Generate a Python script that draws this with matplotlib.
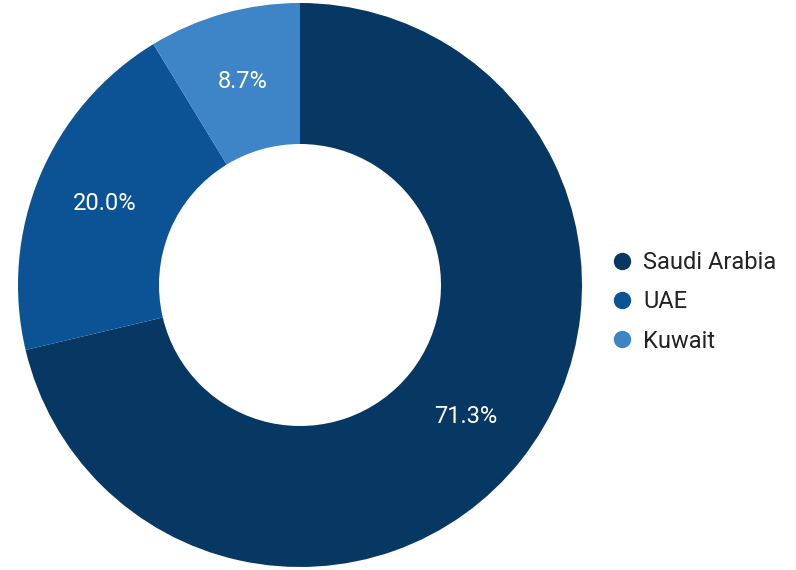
import matplotlib.pyplot as plt
from matplotlib.lines import Line2D

plt.rcParams['font.family'] = ['Roboto', 'DejaVu Sans']

countries = ['Saudi Arabia', 'UAE', 'Kuwait']
shares = [71.3, 20.0, 8.7]
colors = ['#073763', '#0b5394', '#3d85c6']

fig = plt.figure(figsize=(7.96, 5.70), dpi=100)
ax = fig.add_axes([18 / 796, 3 / 570, 564 / 796, 564 / 570])

wedges, texts, autotexts = ax.pie(
    shares, colors=colors, startangle=90, counterclock=False,
    autopct='%.1f%%', pctdistance=0.75,
    wedgeprops=dict(width=0.5, linewidth=0),
    textprops=dict(color='white', fontsize=17))
ax.set_xlim(-1, 1)
ax.set_ylim(-1, 1)
ax.set_aspect('equal')

handles = [Line2D([], [], marker='o', linestyle='none', markersize=11.5,
                  markerfacecolor=c, markeredgecolor=c) for c in colors]
fig.legend(handles, countries, loc='center left', bbox_to_anchor=(610 / 796, 268 / 570),
           frameon=False, fontsize=17, handlelength=1.0, handletextpad=0.4,
           labelspacing=0.68, borderpad=0, borderaxespad=0,
           labelcolor='#222222')

fig.savefig('out.png', dpi=100)
